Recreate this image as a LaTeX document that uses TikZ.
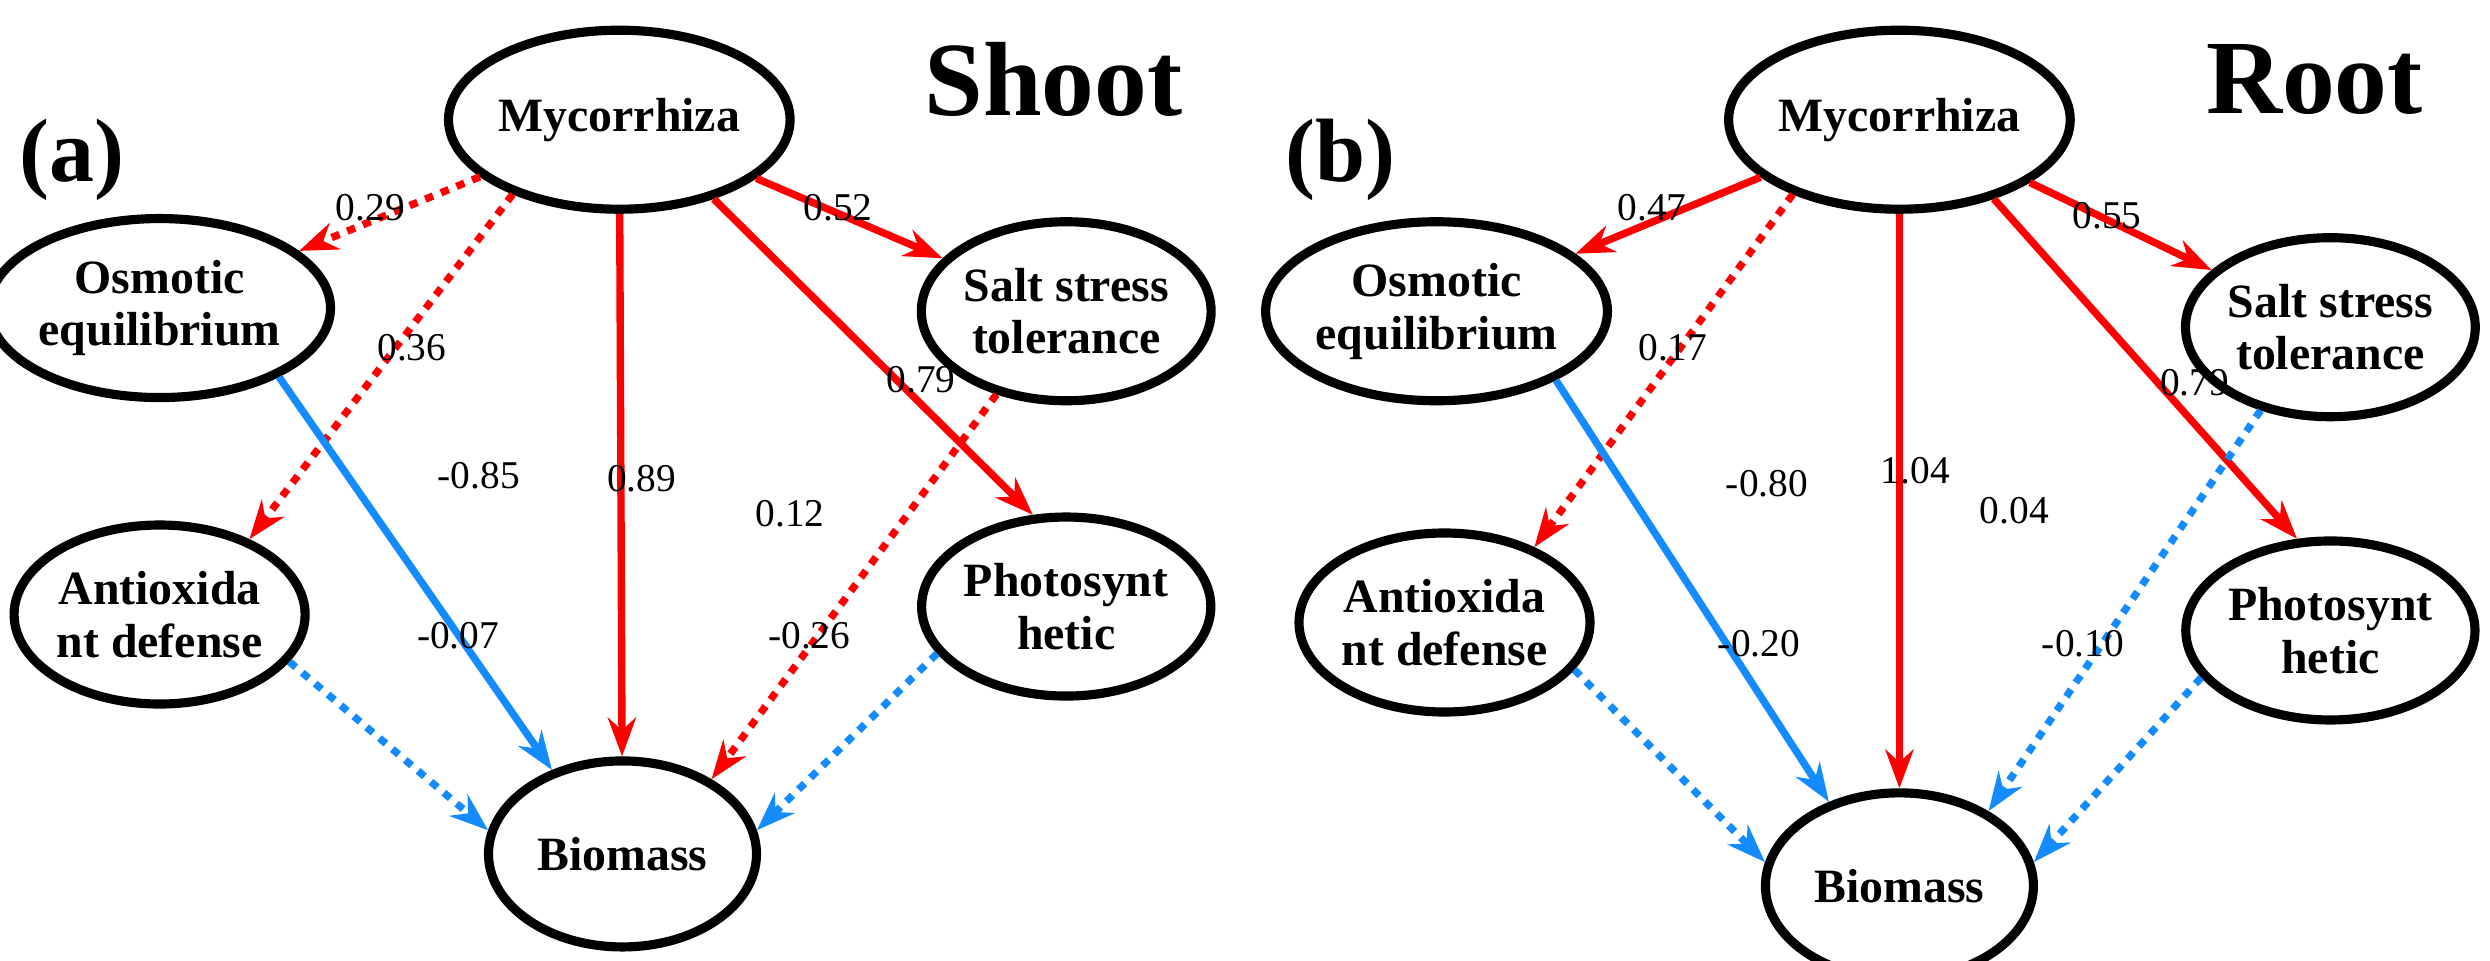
\documentclass[tikz,border=0pt]{standalone}
\usepackage{fontspec}
\setmainfont{Liberation Serif}
\usetikzlibrary{arrows.meta,shapes.geometric}
\begin{document}
\begin{tikzpicture}[x=0.01596cm,y=-0.01596cm,
 ar/.style={line width=2.1pt,-{Stealth[length=11pt,width=8pt]}},
 rs/.style={ar,red},
 rd/.style={ar,red,dash pattern=on 2.4pt off 2.4pt},
 bs/.style={ar,color={rgb,255:red,20;green,140;blue,255}},
 bd/.style={bs,dash pattern=on 2.4pt off 2.4pt},
 lb/.style={font=\fontsize{11.2}{12}\selectfont},
 E/.style={draw,line width=2.6pt,ellipse,inner sep=0pt,align=center,minimum width=2.68cm,minimum height=1.79cm,font=\fontsize{13.6}{15}\selectfont\bfseries}]
\path[use as bounding box] (0,0) rectangle (1560,601.5);
% panel a
\node[font=\fontsize{25.6}{26}\selectfont\bfseries] (ta) at (45,100) {(a)};
\node[font=\fontsize{30}{30}\selectfont\bfseries] (sa) at (660,50) {Shoot};
\node[E] (m1) at (388,75) {Mycorrhiza};
\node[E] (o1) at (100,193) {Osmotic\\equilibrium};
\node[E] (s1) at (668,195) {Salt stress\\tolerance};
\node[E] (a1) at (100,385) {Antioxida\\nt defense};
\node[E] (p1) at (668,380) {Photosynt\\hetic};
\node[E,minimum height=1.86cm] (b1) at (390,535) {Biomass};
\node[font=\fontsize{15}{16}\selectfont\bfseries] (g1) at (390,690) {GOF=0.62};
\draw[rd] (m1) -- (o1);
\draw[rd] (m1.215) -- (a1.40);
\draw[rs] (m1) -- (b1);
\draw[rs] (m1) -- (s1);
\draw[rs] (m1.320) -- (p1.110);
\draw[rd] (s1.230) -- (b1.40);
\draw[bs] (o1.330) -- (b1.130);
\draw[bd] (a1.340) -- (b1.170);
\draw[bd] (p1.200) -- (b1.10);
\node[lb] (l1) at (232,130) {0.29};
\node[lb] (l2) at (525,130) {0.52};
\node[lb] (l3) at (258,218) {0.36};
\node[lb] (l4) at (402,300) {0.89};
\node[lb] (l5) at (577,238) {0.79};
\node[lb] (l6) at (495,322) {0.12};
\node[lb] (l7) at (300,298) {-0.85};
\node[lb] (l8) at (287,398) {-0.07};
\node[lb] (l9) at (507,398) {-0.26};
% panel b
\node[font=\fontsize{25.6}{26}\selectfont\bfseries] (tb) at (840,100) {(b)};
\node[font=\fontsize{30}{30}\selectfont\bfseries] (sb) at (1450,50) {Root};
\node[E] (m2) at (1190,75) {Mycorrhiza};
\node[E] (o2) at (900,195) {Osmotic\\equilibrium};
\node[E] (s2) at (1460,205) {Salt stress\\tolerance};
\node[E] (a2) at (905,390) {Antioxida\\nt defense};
\node[E] (p2) at (1460,395) {Photosynt\\hetic};
\node[E,minimum height=1.86cm] (b2) at (1190,555) {Biomass};
\node[font=\fontsize{15}{16}\selectfont\bfseries] (g2) at (1190,710) {GOF=0.63};
\draw[rs] (m2) -- (o2);
\draw[rd] (m2.215) -- (a2.40);
\draw[rs] (m2) -- (b2);
\draw[rs] (m2) -- (s2);
\draw[rs] (m2.320) -- (p2.110);
\draw[bd] (s2.230) -- (b2.40);
\draw[bs] (o2.330) -- (b2.130);
\draw[bd] (a2.340) -- (b2.170);
\draw[bd] (p2.200) -- (b2.10);
\node[lb] (k1) at (1035,130) {0.47};
\node[lb] (k2) at (1320,135) {0.55};
\node[lb] (k3) at (1048,218) {0.17};
\node[lb] (k4) at (1200,295) {1.04};
\node[lb] (k5) at (1375,240) {0.79};
\node[lb] (k6) at (1262,320) {0.04};
\node[lb] (k7) at (1107,303) {-0.80};
\node[lb] (k8) at (1102,403) {-0.20};
\node[lb] (k9) at (1305,403) {-0.10};
\end{tikzpicture}
\end{document}
